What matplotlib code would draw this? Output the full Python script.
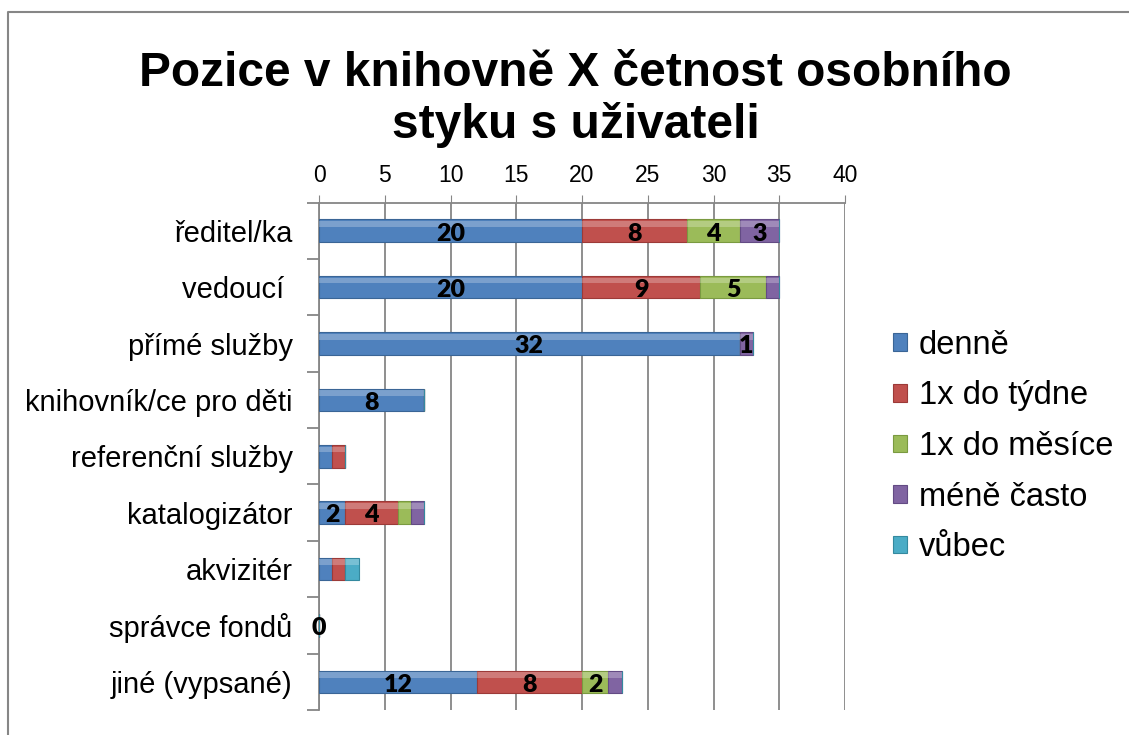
import numpy as np
import matplotlib.pyplot as plt
from matplotlib.lines import Line2D

# categories and series
categories = ["ředitel/ka", "vedoucí ", "přímé služby", "knihovník/ce pro děti",
              "referenční služby", "katalogizátor", "akvizitér", "správce fondů",
              "jiné (vypsané)"]
series = ["denně", "1x do týdne", "1x do měsíce", "méně často", "vůbec"]

denne = [20, 20, 32, 8, 1, 2, 1, 0, 12]
tydne = [8, 9, 0, 0, 1, 4, 1, 0, 8]
mesice = [4, 5, 0, 0, 0, 1, 0, 0, 2]
mene = [3, 1, 1, 0, 0, 1, 0, 0, 1]
vubec = [0, 0, 0, 0, 0, 0, 1, 0, 0]

# extra labels shown in the original although the value is small
extra_labels = [("přímé služby", "méně často"), ("správce fondů", "denně")]

colors = ["#4F81BD", "#C0504D", "#9BBB59", "#8064A2", "#4BACC6"]
edges = ["#3A6596", "#9C3A38", "#7A9A40", "#634B84", "#34899F"]

plt.rcParams['font.family'] = ['Liberation Sans', 'DejaVu Sans']

fig = plt.figure(figsize=(11.29, 7.35), dpi=100)
ax = fig.add_axes([0.2826, 0.034, 0.4659, 0.6904])

y = np.arange(len(categories))
data = [denne, tydne, mesice, mene, vubec]
left = np.zeros(len(categories))
handles = []
for k, vals in enumerate(data):
    vals = np.array(vals, dtype=float)
    b = ax.barh(y, vals, left=left, height=0.4, color=colors[k],
                edgecolor=edges[k], linewidth=0.8, zorder=3, label=series[k])
    # highlight strip for a glossy look
    ax.barh(y - 0.12, vals, left=left, height=0.1, color="white", alpha=0.25,
            linewidth=0, zorder=4)
    for i, v in enumerate(vals):
        show = v >= 2 or (categories[i], series[k]) in extra_labels
        if show:
            ax.text(left[i] + v / 2, y[i] + 0.05, f"{int(v)}", ha="center",
                    va="center", fontsize=18, fontweight="heavy",
                    family=["Lato", "DejaVu Sans"], zorder=5)
    left += vals
    handles.append(b)

ax.set_xlim(0, 40)
ax.set_ylim(len(categories) - 0.5, -0.5)
ax.xaxis.tick_top()
ax.set_xticks(np.arange(0, 41, 5))
ax.tick_params(axis="x", labelsize=16.5, length=6, color="#868686", pad=5)

ax.set_yticks(y)
ax.set_yticklabels(categories)
ax.tick_params(axis="y", which="major", labelsize=21, length=0, pad=19)
ax.set_yticks(np.arange(-0.5, len(categories), 1), minor=True)
ax.tick_params(axis="y", which="minor", length=9, color="#868686", width=1.3)

ax.grid(axis="x", color="#868686", linewidth=1.3, zorder=0)
for s in ["right", "bottom"]:
    ax.spines[s].set_visible(False)
for s in ["top", "left"]:
    ax.spines[s].set_color("#868686")
    ax.spines[s].set_linewidth(1.3)

leg = fig.legend(handles=handles, labels=series, loc="upper left",
                 bbox_to_anchor=(0.779, 0.569), frameon=False, fontsize=23.5,
                 handlelength=0.45, handleheight=0.45, handletextpad=0.35,
                 labelspacing=0.6, borderaxespad=0)

fig.text(0.51, 0.93, "Pozice v knihovně X četnost osobního\nstyku s uživateli",
         ha="center", va="top", fontsize=34.5, fontweight="bold", linespacing=1.15)

# outer chart frame
fig.add_artist(Line2D([0.0075, 0.0075, 1.0], [0.0, 0.9837, 0.9837],
                      transform=fig.transFigure, color="#868686", linewidth=1.5))

fig.savefig("out.png", dpi=100)
